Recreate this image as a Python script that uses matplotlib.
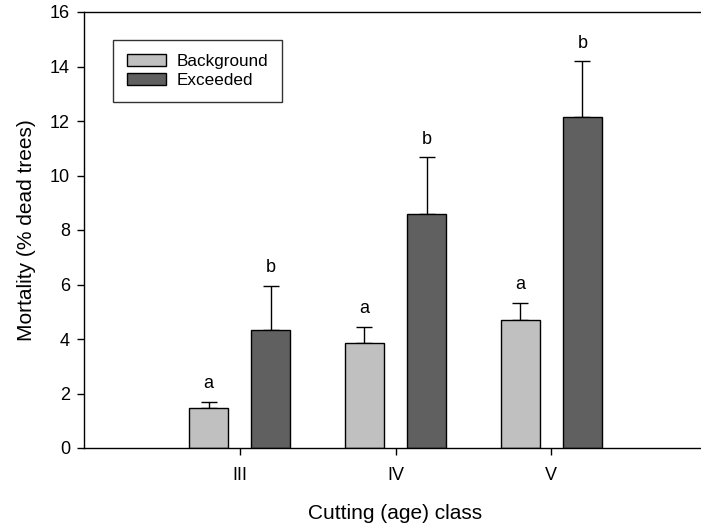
import matplotlib
matplotlib.use("Agg")
import matplotlib.pyplot as plt
import numpy as np

plt.rcParams['font.family'] = ['Liberation Sans', 'DejaVu Sans']

categories = ["III", "IV", "V"]
background = [1.46, 3.86, 4.68]
background_err = [0.23, 0.59, 0.65]
exceeded = [4.32, 8.58, 12.15]
exceeded_err = [1.64, 2.09, 2.04]
bg_letters = ["a", "a", "a"]
ex_letters = ["b", "b", "b"]

fig = plt.figure(figsize=(7.01, 5.26), dpi=100)
ax = fig.add_axes([84/701, 1-448/526, (707-84)/701, (448-12)/526])

x = np.arange(1, len(categories)+1)
w = 0.25
off = 0.2
ax.bar(x-off, background, w, color="#c0c0c0", edgecolor="black", linewidth=1.0,
       label="Background", zorder=2)
ax.bar(x+off, exceeded, w, color="#606060", edgecolor="black", linewidth=1.0,
       label="Exceeded", zorder=2)
ax.errorbar(x-off, background, yerr=[np.zeros(3), background_err], fmt="none",
            ecolor="black", elinewidth=1.0, capsize=6, capthick=1.0, zorder=1)
ax.errorbar(x+off, exceeded, yerr=[np.zeros(3), exceeded_err], fmt="none",
            ecolor="black", elinewidth=1.0, capsize=6, capthick=1.0, zorder=1)

for xi, v, e, t in zip(x-off, background, background_err, bg_letters):
    ax.text(xi, v+e+0.35, t, ha="center", va="bottom", fontsize=13)
for xi, v, e, t in zip(x+off, exceeded, exceeded_err, ex_letters):
    ax.text(xi, v+e+0.35, t, ha="center", va="bottom", fontsize=13)

ax.set_xlim(0, 4)
ax.set_ylim(0, 16)
ax.set_xticks(x)
ax.set_xticklabels(categories)
ax.set_yticks(np.arange(0, 17, 2))
ax.tick_params(direction="out", length=5, width=1, labelsize=13, pad=5)
ax.tick_params(axis="x", pad=9)
for s in ["left", "bottom", "top"]:
    ax.spines[s].set_linewidth(1.0)
ax.spines["right"].set_visible(False)

ax.set_xlabel("Cutting (age) class", fontsize=15, labelpad=14)
ax.set_ylabel("Mortality (% dead trees)", fontsize=15, labelpad=10)

leg = ax.legend(loc="upper left", bbox_to_anchor=((113-84)/623, 1-(40-12)/436),
                frameon=True, fancybox=False, edgecolor="black", fontsize=12.3,
                handlelength=2.3, handleheight=0.7, borderpad=0.8,
                labelspacing=0.25, handletextpad=0.65, borderaxespad=0)
leg.get_frame().set_linewidth(1.0)

fig.savefig("out.png", dpi=100)
